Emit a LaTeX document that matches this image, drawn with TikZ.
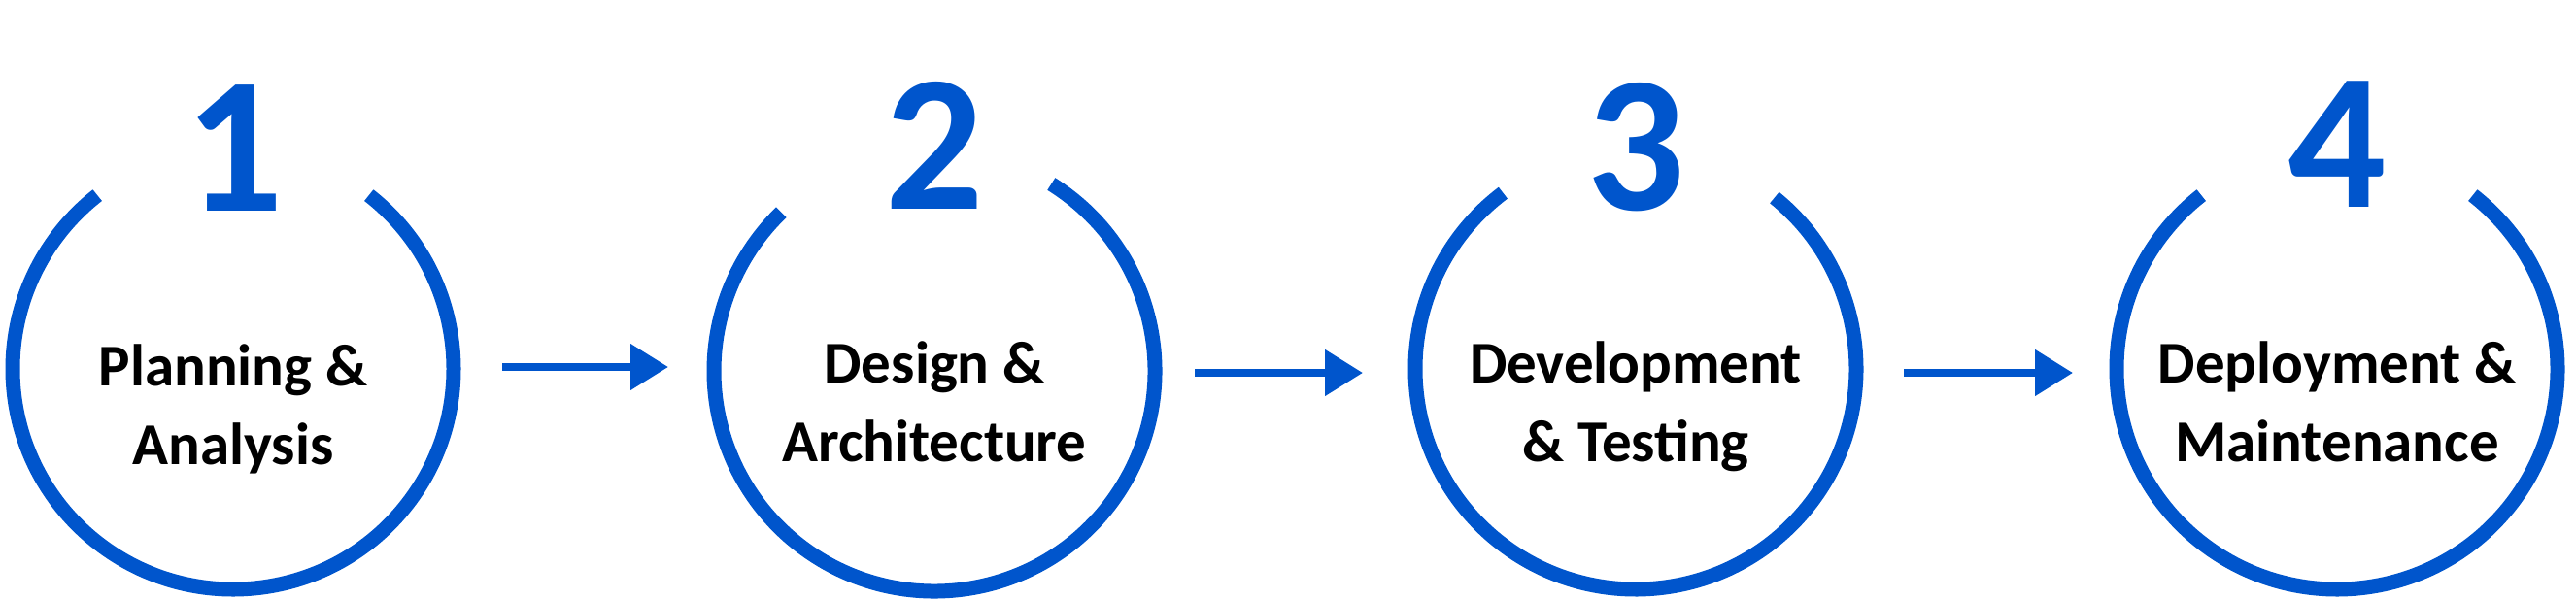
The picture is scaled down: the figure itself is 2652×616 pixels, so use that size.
\documentclass[tikz,border=0pt]{standalone}
\usepackage{fontspec}
\setmainfont{Carlito}
\usetikzlibrary{arrows.meta}
\definecolor{stepblue}{RGB}{0,85,204}
\tikzset{
  ring/.style={draw=stepblue,line width=15pt},
  numlabel/.style={text=stepblue,font=\fontsize{200}{200}\selectfont\bfseries,anchor=base,inner sep=0pt},
  steplabel/.style={font=\fontsize{61}{81}\selectfont\bfseries,align=center,anchor=base,inner sep=0pt},
  flow/.style={draw=stepblue,line width=8pt,-{Triangle[length=39pt,width=46pt]}}
}
\begin{document}
\begin{tikzpicture}[x=1pt,y=-1pt]
\useasboundingbox (0,0) rectangle (2652,616);
% rings
\draw[ring] (240,380) ++(-52:227) arc[start angle=-52,end angle=232,radius=227];
\draw[ring] (962,382) ++(-58:227) arc[start angle=-58,end angle=226,radius=227];
\draw[ring] (1684,380) ++(-51:227) arc[start angle=-51,end angle=233,radius=227];
\draw[ring] (2406,380) ++(-52:227) arc[start angle=-52,end angle=232,radius=227];
% numbers
\node[numlabel] (n1) at (241,217) {1};
\node[numlabel] (n2) at (962,215) {2};
\node[numlabel] (n3) at (1684,216) {3};
\node[numlabel] (n4) at (2406,213) {4};
% labels
\node[steplabel] (t1) at (240,478) {Planning \&\\Analysis};
\node[steplabel] (t2) at (962,475) {Design \&\\Architecture};
\node[steplabel] (t3) at (1684,475) {Development\\\& Testing};
\node[steplabel] (t4) at (2406,475) {Deployment \&\\Maintenance};
% arrows
\coordinate (a1s) at (517,378); \coordinate (a1e) at (688,378);
\coordinate (a2s) at (1230,384); \coordinate (a2e) at (1403,384);
\coordinate (a3s) at (1960,384); \coordinate (a3e) at (2134,384);
\draw[flow] (a1s) -- (a1e);
\draw[flow] (a2s) -- (a2e);
\draw[flow] (a3s) -- (a3e);
\end{tikzpicture}
\end{document}
